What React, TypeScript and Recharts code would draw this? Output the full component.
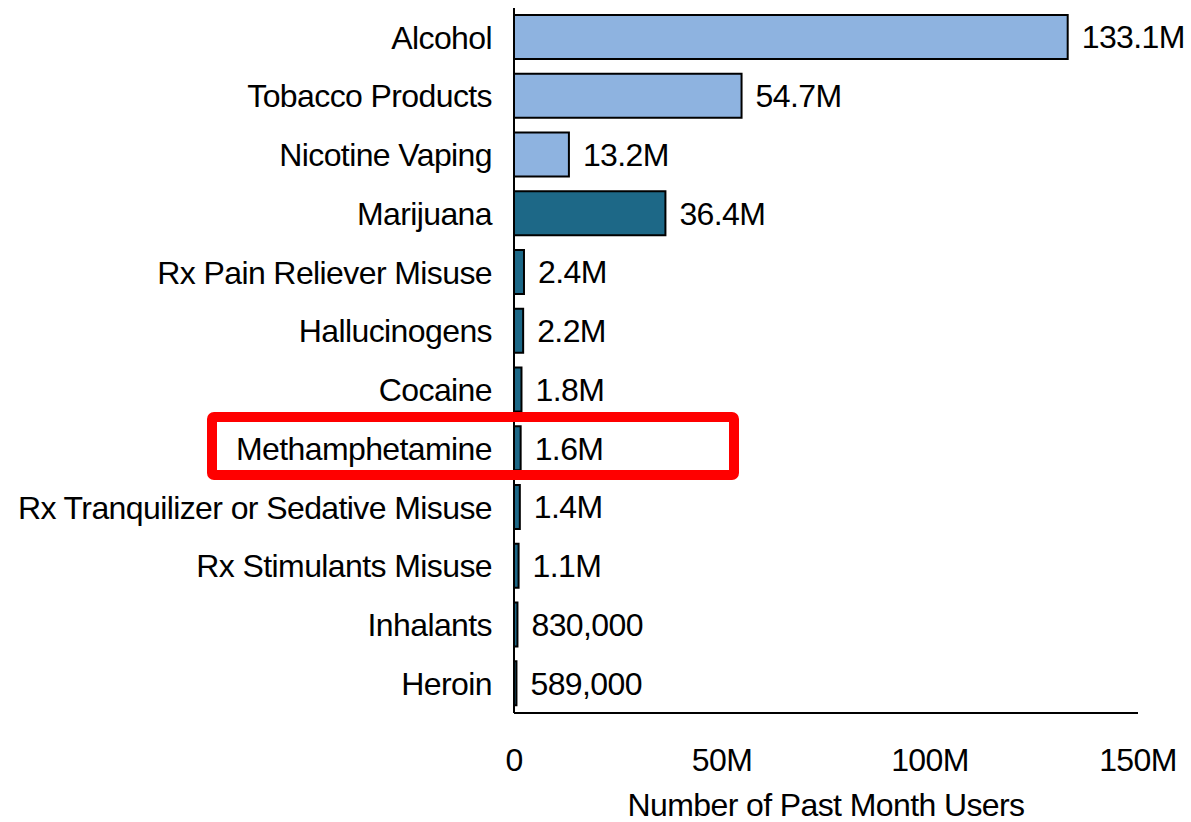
import React from 'react';
import { BarChart, Bar, XAxis, YAxis, Cell, LabelList } from 'recharts';

const categories = [
  'Alcohol',
  'Tobacco Products',
  'Nicotine Vaping',
  'Marijuana',
  'Rx Pain Reliever Misuse',
  'Hallucinogens',
  'Cocaine',
  'Methamphetamine',
  'Rx Tranquilizer or Sedative Misuse',
  'Rx Stimulants Misuse',
  'Inhalants',
  'Heroin',
];
const users = [133.1, 54.7, 13.2, 36.4, 2.4, 2.2, 1.8, 1.6, 1.4, 1.1, 0.83, 0.589];
const valueLabels = ['133.1M', '54.7M', '13.2M', '36.4M', '2.4M', '2.2M', '1.8M', '1.6M', '1.4M', '1.1M', '830,000', '589,000'];
const groups = ['legal', 'legal', 'legal', 'drug', 'drug', 'drug', 'drug', 'drug', 'drug', 'drug', 'drug', 'drug'];
const xTicks = [0, 50, 100, 150];
const xTickLabels = ['0', '50M', '100M', '150M'];

const colors: Record<string, string> = { legal: '#8EB3E0', drug: '#1D6887' };

const data = categories.map((name, i) => ({
  name,
  value: users[i],
  label: valueLabels[i],
  group: groups[i],
}));

const FONT = '"Liberation Sans Narrow", "Arial Narrow", "Liberation Sans", sans-serif';
const FS = 32;
const LS = -0.6;

export default function App() {
  return (
    <div style={{ position: 'absolute', left: 0, top: 0, width: 1191, height: 822, background: '#fff', fontFamily: FONT, letterSpacing: LS }}>
      <BarChart
        width={1191}
        height={822}
        data={data}
        layout="vertical"
        margin={{ top: 8, right: 53, bottom: 0, left: 14 }}
        barCategoryGap={15}
      >
        <XAxis
          type="number"
          domain={[0, 150]}
          ticks={xTicks}
          tickFormatter={(v: number) => xTickLabels[xTicks.indexOf(v)]}
          tickLine={false}
          tickSize={0}
          tickMargin={35}
          axisLine={{ stroke: '#000', strokeWidth: 2 }}
          tick={{ fill: '#000', fontSize: FS, fontFamily: FONT, letterSpacing: LS }}
          height={109}
          label={{ value: 'Number of Past Month Users', position: 'insideBottom', offset: 6, fill: '#000', fontSize: FS, fontFamily: FONT, letterSpacing: LS }}
        />
        <YAxis
          type="category"
          dataKey="name"
          width={500}
          tickLine={false}
          tickSize={0}
          tickMargin={22}
          axisLine={{ stroke: '#000', strokeWidth: 2 }}
          tick={{ fill: '#000', fontSize: FS, fontFamily: FONT, letterSpacing: LS }}
          interval={0}
        />
        <Bar dataKey="value" isAnimationActive={false} stroke="#000" strokeWidth={2} barSize={44}>
          {data.map((d, i) => (
            <Cell key={i} fill={colors[d.group]} />
          ))}
          <LabelList dataKey="label" position="right" offset={14} fill="#000" fontSize={FS} fontFamily={FONT} letterSpacing={LS} />
        </Bar>
      </BarChart>
      <div
        style={{
          position: 'absolute',
          left: 207,
          top: 412,
          width: 532,
          height: 68,
          boxSizing: 'border-box',
          border: '10px solid #FF0000',
          borderRadius: 7,
          pointerEvents: 'none',
        }}
      />
    </div>
  );
}
